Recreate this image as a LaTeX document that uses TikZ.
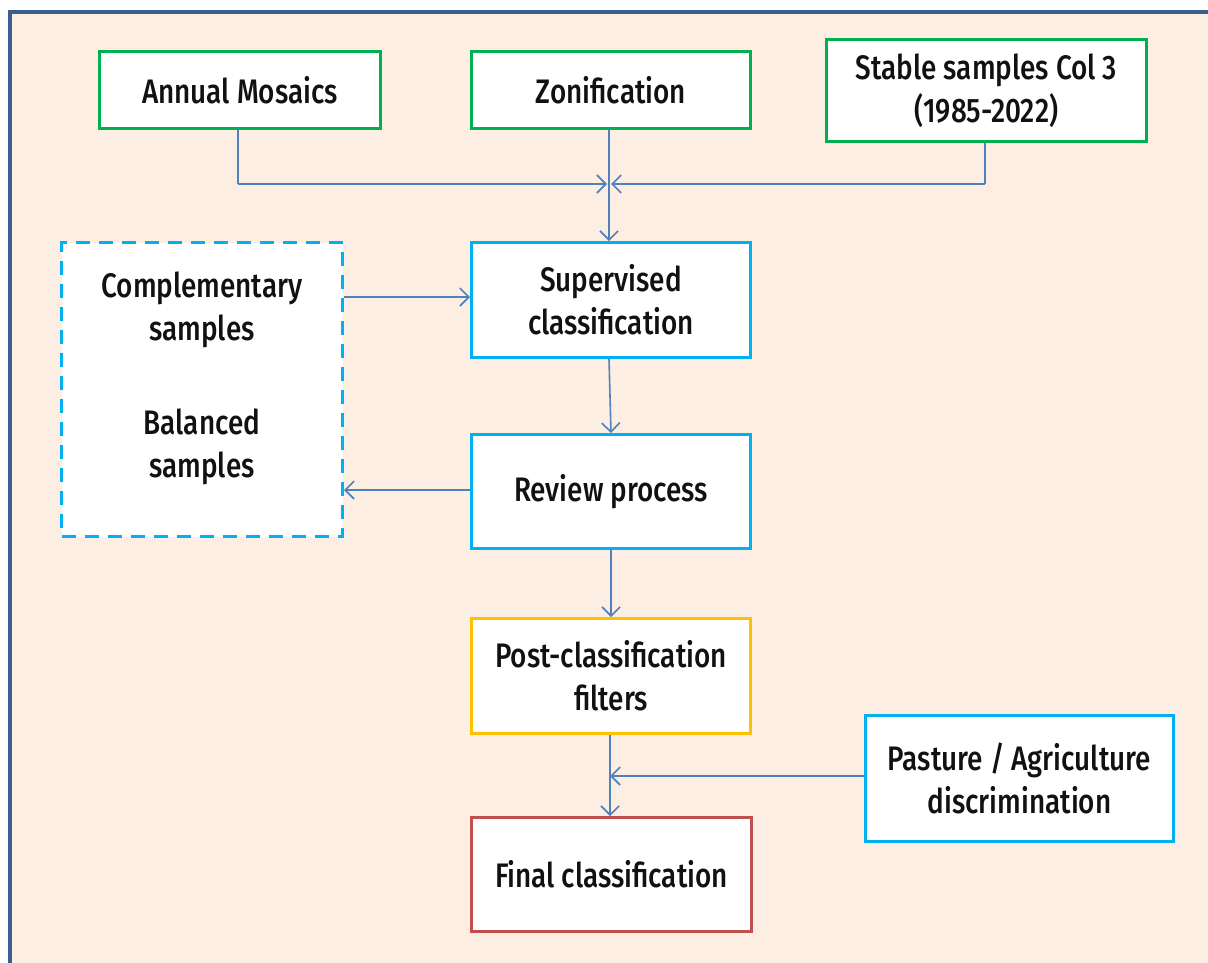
\documentclass[tikz,border=0pt]{standalone}
\usepackage{fontspec}
\setmainfont{Fira Sans}[FakeStretch=0.8, BoldFont={Fira Sans Medium}, BoldFeatures={FakeStretch=0.82}]
\usetikzlibrary{arrows.meta}
\definecolor{bgpeach}{HTML}{FDEEE3}
\definecolor{framecol}{HTML}{3A5F8F}
\definecolor{grn}{HTML}{00B050}
\definecolor{cyn}{HTML}{00B0F0}
\definecolor{org}{HTML}{FFC000}
\definecolor{redc}{HTML}{C0504D}
\definecolor{linec}{HTML}{4F81BD}
\definecolor{txt}{HTML}{111111}
\tikzset{
  box/.style={draw, line width=3pt, fill=white, text=txt, align=center,
    font=\fontsize{34}{43}\selectfont\bfseries, inner sep=0pt, anchor=north west},
  lbl/.style={text=txt, align=center, font=\fontsize{34}{43}\selectfont\bfseries, inner sep=0pt},
  conn/.style={draw=linec, line width=1.6pt, -{Straight Barb[length=9pt,width=18pt,line width=1.6pt]}},
  plain/.style={draw=linec, line width=1.6pt}
}
\begin{document}
\begin{tikzpicture}[x=1pt,y=-1pt]
\useasboundingbox (0,0) rectangle (1208,962);
\fill[white] (0,0) rectangle (1208,962);
\draw[framecol, line width=4pt, fill=bgpeach] (10,12) rectangle (1230,990);

\node[box, draw=grn, minimum width=281pt, minimum height=77pt] (am) at (98,50) {Annual Mosaics};
\node[box, draw=grn, minimum width=279pt, minimum height=77pt] (zo) at (470,50) {Zonification};
\node[box, draw=grn, minimum width=320pt, minimum height=102pt] (ss) at (825,38) {Stable samples Col 3\\(1985-2022)};
\node[box, draw=cyn, minimum width=279pt, minimum height=115pt] (sc) at (470,241) {Supervised\\classification};
\node[box, draw=cyn, dashed, dash pattern=on 14pt off 9pt, minimum width=281pt, minimum height=294pt] (cs) at (60,241) {};
\node[lbl] (cst) at ([yshift=11pt]cs.center) {Complementary\\samples\\[51pt]Balanced\\samples};
\node[box, draw=cyn, minimum width=279pt, minimum height=114pt] (rp) at (470,433) {Review process};
\node[box, draw=org, minimum width=279pt, minimum height=115pt] (pc) at (470,617) {Post-classification\\filters};
\node[box, draw=cyn, minimum width=308pt, minimum height=126pt] (pa) at (864,714) {Pasture / Agriculture\\discrimination};
\node[box, draw=redc, minimum width=280pt, minimum height=114pt] (fc) at (470,816) {Final classification};

\coordinate (j1) at (238,184);
\coordinate (j2) at (985,184);
\coordinate (jl) at (607,184);
\coordinate (jr) at (611,184);
\coordinate (j3) at (610,776);

\draw[plain] (am.south -| j1) -- (j1);
\draw[conn] (j1) -- (jl);
\draw[plain] (ss.south -| j2) -- (j2);
\draw[conn] (j2) -- (jr);
\draw[conn] (zo.south -| 609,0) -- (sc.north -| 609,0);
\draw[conn] (cs.east |- 0,297) -- (sc.west |- 0,297);
\draw[conn] (sc.south -| 609,0) -- (rp.north -| 611,0);
\draw[conn] (rp.west |- 0,490) -- (cs.east |- 0,490);
\draw[conn] (rp.south -| 611,0) -- (pc.north -| 611,0);
\draw[conn] (pc.south -| 610,0) -- (fc.north -| 610,0);
\draw[conn] (pa.west |- j3) -- (j3);
\end{tikzpicture}
\end{document}
